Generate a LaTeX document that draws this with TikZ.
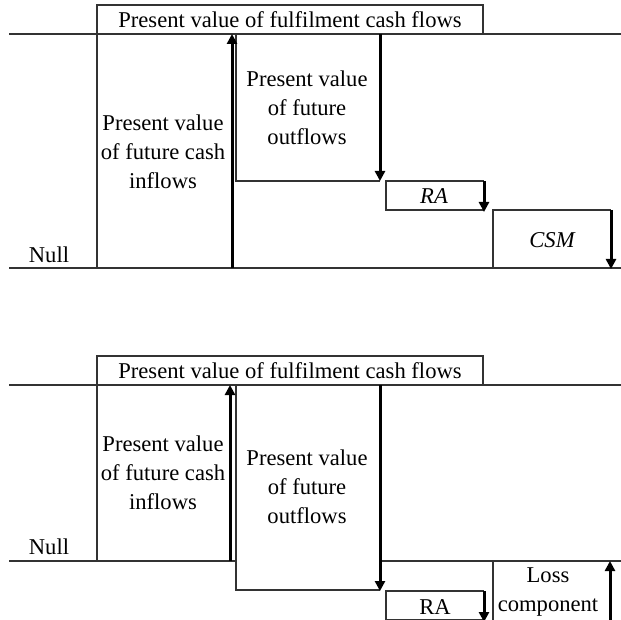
\documentclass[tikz,border=0pt]{standalone}
\usepackage{fontspec}
\setmainfont{Liberation Serif}
\usetikzlibrary{arrows.meta}

\tikzset{
  edge/.style={line width=0.8pt, black!80},
  flow/.style={line width=1.5pt, -{Triangle[length=5pt,width=5pt]}},
  lbl/.style={align=center, inner sep=0pt, font=\fontsize{11.3}{14.5}\selectfont},
  hbox/.style={lbl, draw, line width=0.8pt, black!80, text=black, minimum width=193pt, minimum height=14.5pt},
}

\begin{document}
\begin{tikzpicture}[x=0.5pt, y=-0.5pt]
	\useasboundingbox (0,0) rectangle (621,620);

	% upper panel
	\draw[edge] (9,34) -- (621,34);
	\draw[edge] (9,268) -- (621,268);
	\node[hbox] (headA) at (290,19.5) {Present value of fulfilment cash flows};
	\draw[edge] (97,34) -- (97,268);
	\draw[edge] (236,34) -- (236,181) -- (380,181);
	\draw[edge] (484,210) -- (386,210) -- (386,181) -- (484,181);
	\draw[edge] (493,268) -- (493,210) -- (611,210);

	\coordinate (inA1) at (232,268);
	\coordinate (inA2) at (232,34);
	\coordinate (outA1) at (380,34);
	\coordinate (outA2) at (380,181);
	\coordinate (raA1) at (484,181);
	\coordinate (raA2) at (484,212);
	\coordinate (csmA1) at (611,210);
	\coordinate (csmA2) at (611,269);
	\draw[flow] (inA1) -- (inA2);
	\draw[flow] (outA1) -- (outA2);
	\draw[flow] (raA1) -- (raA2);
	\draw[flow] (csmA1) -- (csmA2);

	\node[lbl] (nullA) at (49,255) {Null};
	\node[lbl] (inflowA) at (163,152) {Present value\\of future cash\\inflows};
	\node[lbl] (outflowA) at (307,108) {Present value\\of future\\outflows};
	\node[lbl] (raA) at (434,196) {\itshape RA};
	\node[lbl] (csmA) at (552,240) {\itshape CSM};

	% lower panel
	\draw[edge] (9,385) -- (621,385);
	\draw[edge] (9,561) -- (236,561);
	\draw[edge] (380,561) -- (621,561);
	\node[hbox] (headB) at (290,370.5) {Present value of fulfilment cash flows};
	\draw[edge] (97,385) -- (97,561);
	\draw[edge] (236,385) -- (236,590) -- (380,590);
	\draw[edge] (484,620) -- (386,620) -- (386,591) -- (484,591);
	\draw[edge] (493,561) -- (493,625);

	\coordinate (inB1) at (230,561);
	\coordinate (inB2) at (230,385);
	\coordinate (outB1) at (380,385);
	\coordinate (outB2) at (380,591);
	\coordinate (raB1) at (484,591);
	\coordinate (raB2) at (484,622);
	\coordinate (lossB1) at (610,625);
	\coordinate (lossB2) at (610,561);
	\draw[flow] (inB1) -- (inB2);
	\draw[flow] (outB1) -- (outB2);
	\draw[flow] (raB1) -- (raB2);
	\draw[flow] (lossB1) -- (lossB2);

	\node[lbl] (nullB) at (49,547) {Null};
	\node[lbl] (inflowB) at (163,473) {Present value\\of future cash\\inflows};
	\node[lbl] (outflowB) at (307,487) {Present value\\of future\\outflows};
	\node[lbl] (raB) at (435,607) {RA};
	\node[lbl] (lossB) at (548,592) {Loss\\component};
\end{tikzpicture}
\end{document}
